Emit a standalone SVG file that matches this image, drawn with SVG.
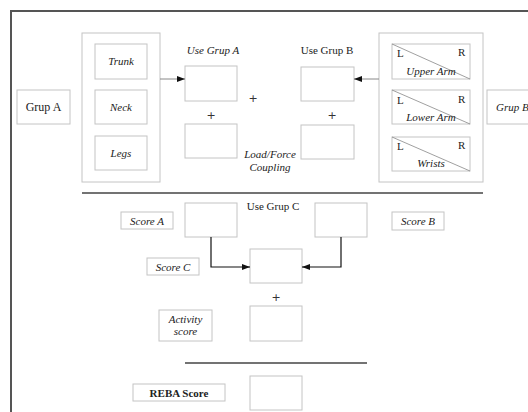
<svg xmlns="http://www.w3.org/2000/svg" width="528" height="412" viewBox="0 0 528 412">
<defs>
<style>
.frame{fill:none;stroke:#555;stroke-width:2}
.box{fill:#fff;stroke:#c4c4c4;stroke-width:1}
.grp{fill:none;stroke:#c4c4c4;stroke-width:1}
.sep{stroke:#444;stroke-width:1.5}
.t{font-family:"Liberation Serif","Times New Roman",serif;font-size:11px;fill:#222}
.i{font-style:italic}
.b{font-weight:bold}
.m{text-anchor:middle}
.p{font-family:"DejaVu Sans",sans-serif;font-size:11px;fill:#333;text-anchor:middle}
.lc{fill:none;stroke:#888;stroke-width:1}
.dk{fill:none;stroke:#111;stroke-width:1.2}
.diag{stroke:#888;stroke-width:0.8}
</style>
<marker id="ah" markerWidth="8" markerHeight="6" refX="8" refY="3" orient="auto" markerUnits="userSpaceOnUse"><path d="M0,0 L8,3 L0,6 z" fill="#111"/></marker>
</defs>
<rect width="528" height="412" fill="#fff"/>
<rect class="frame" x="11" y="11" width="530" height="420"/>

<g id="grupA"><rect class="box" x="17" y="90" width="53" height="34"/><text class="t m" x="43.5" y="111" style="font-size:12px">Grup A</text></g>
<g id="groupA-box"><rect class="grp" x="82" y="33" width="78" height="149"/></g>
<g id="trunk"><rect class="box" x="95" y="44" width="52" height="35"/><text class="t i m" x="121" y="65">Trunk</text></g>
<g id="neck"><rect class="box" x="95" y="90" width="52" height="34"/><text class="t i m" x="121" y="111">Neck</text></g>
<g id="legs"><rect class="box" x="95" y="136" width="52" height="34"/><text class="t i m" x="121" y="157">Legs</text></g>

<g id="useA"><text class="t i m" x="213" y="54">Use Grup A</text><rect class="box" x="185" y="66" width="52" height="35"/></g>
<g id="loadA"><rect class="box" x="185" y="124" width="52" height="34"/></g>
<g id="useB"><text class="t m" x="327" y="54">Use Grup B</text><rect class="box" x="301" y="67" width="53" height="34"/></g>
<g id="loadB"><rect class="box" x="301" y="125" width="53" height="34"/></g>
<g id="plus1"><text class="p" x="253" y="102">+</text></g>
<g id="plus2"><text class="p" x="211" y="119">+</text></g>
<g id="plus3"><text class="p" x="332" y="119">+</text></g>
<g id="loadforce"><text class="t i m" x="270" y="158">Load/Force</text><text class="t i m" x="270" y="171">Coupling</text></g>

<g id="groupB-box"><rect class="grp" x="379" y="33" width="104" height="149"/></g>
<g id="upperarm"><rect class="box" x="392" y="44" width="78" height="35"/><line class="diag" x1="392" y1="44" x2="470" y2="79"/><text class="t" x="397" y="57">L</text><text class="t" x="458" y="56">R</text><text class="t i m" x="431" y="75">Upper Arm</text></g>
<g id="lowerarm"><rect class="box" x="392" y="90" width="78" height="34"/><line class="diag" x1="392" y1="90" x2="470" y2="124"/><text class="t" x="397" y="104">L</text><text class="t" x="458" y="103">R</text><text class="t i m" x="431" y="121">Lower Arm</text></g>
<g id="wrists"><rect class="box" x="392" y="137" width="78" height="34"/><line class="diag" x1="392" y1="137" x2="470" y2="171"/><text class="t" x="397" y="150">L</text><text class="t" x="458" y="149">R</text><text class="t i m" x="431" y="167">Wrists</text></g>
<g id="grupB"><rect class="box" x="487" y="90" width="60" height="34"/><text class="t i" x="496" y="111">Grup B</text></g>

<g id="sep1"><line class="sep" x1="82" y1="193" x2="483" y2="193"/></g>

<g id="scoreA-label"><rect class="box" x="121" y="212" width="52" height="17"/><text class="t i m" x="147" y="224.5">Score A</text></g>
<g id="scoreA"><rect class="box" x="185" y="203" width="52" height="34"/></g>
<g id="useC"><text class="t m" x="273" y="210">Use Grup C</text></g>
<g id="scoreB"><rect class="box" x="315" y="203" width="52" height="34"/></g>
<g id="scoreB-label"><rect class="box" x="392" y="212" width="52" height="18"/><text class="t i m" x="418" y="225">Score B</text></g>
<g id="scoreC-label"><rect class="box" x="147" y="258" width="52" height="17"/><text class="t i m" x="173" y="270.5">Score C</text></g>
<g id="scoreC"><rect class="box" x="250" y="249" width="52" height="34"/></g>
<g id="plus4"><text class="p" x="276" y="301">+</text></g>
<g id="activity-label"><rect class="box" x="159" y="310" width="53" height="31"/><text class="t i m" x="185.5" y="323">Activity</text><text class="t i m" x="185.5" y="335">score</text></g>
<g id="activity"><rect class="box" x="250" y="306" width="52" height="35"/></g>
<g id="sep2"><line class="sep" x1="185" y1="363" x2="367" y2="363"/></g>
<g id="reba-label"><rect class="box" x="133" y="384" width="92" height="17"/><text class="t b m" x="179" y="396.5">REBA Score</text></g>
<g id="reba"><rect class="box" x="250" y="376" width="52" height="34"/></g>

<g id="connectors">
<line class="lc" x1="160" y1="79" x2="185" y2="79" marker-end="url(#ah)"/>
<line class="lc" x1="379" y1="79" x2="354" y2="79" marker-end="url(#ah)"/>
<polyline class="dk" points="211,237 211,267 250,267" marker-end="url(#ah)"/>
<polyline class="dk" points="341,237 341,267 302,267" marker-end="url(#ah)"/>
</g>
</svg>
